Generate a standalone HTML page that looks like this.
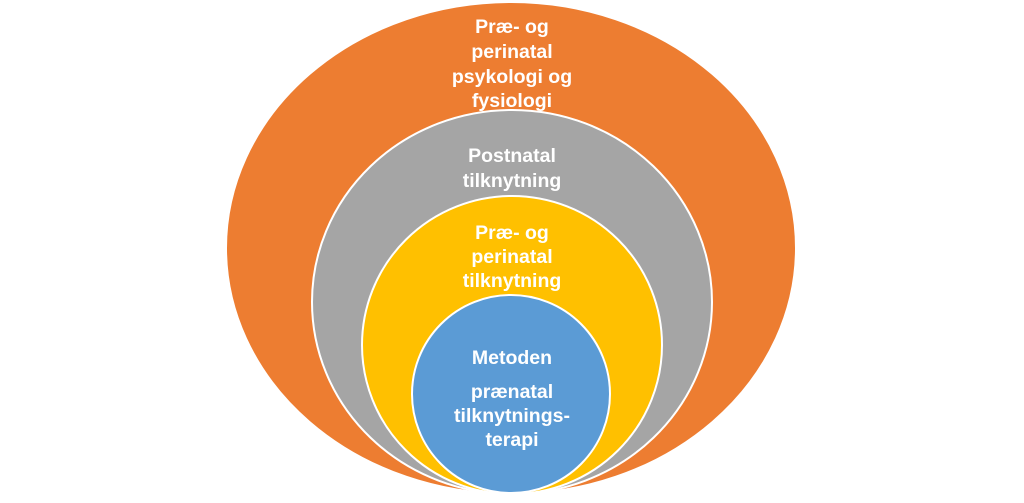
<!DOCTYPE html>
<html><head><style>
html,body{margin:0;padding:0;background:#fff;}
svg text{font-family:"Liberation Sans",sans-serif;font-weight:bold;fill:#fff;font-size:19.5px;text-anchor:middle;}
</style></head><body>
<svg width="1024" height="498" viewBox="0 0 1024 498" xmlns="http://www.w3.org/2000/svg">
<ellipse cx="511" cy="248" rx="285" ry="246" fill="#ED7D31" stroke="#fff" stroke-width="2"/>
<ellipse cx="512" cy="302" rx="200" ry="192" fill="#A5A5A5" stroke="#fff" stroke-width="2"/>
<ellipse cx="512" cy="345" rx="150" ry="149" fill="#FFC000" stroke="#fff" stroke-width="2"/>
<ellipse cx="511" cy="394" rx="99" ry="99" fill="#5B9BD5" stroke="#fff" stroke-width="2"/>
<text x="512" y="33">Præ- og</text>
<text x="512" y="58">perinatal</text>
<text x="512" y="83">psykologi og</text>
<text x="512" y="107">fysiologi</text>
<text x="512" y="162">Postnatal</text>
<text x="512" y="187">tilknytning</text>
<text x="512" y="239">Præ- og</text>
<text x="512" y="263">perinatal</text>
<text x="512" y="287">tilknytning</text>
<text x="512" y="364">Metoden</text>
<text x="512" y="398">prænatal</text>
<text x="512" y="422">tilknytnings-</text>
<text x="512" y="446">terapi</text>
</svg>
</body></html>
